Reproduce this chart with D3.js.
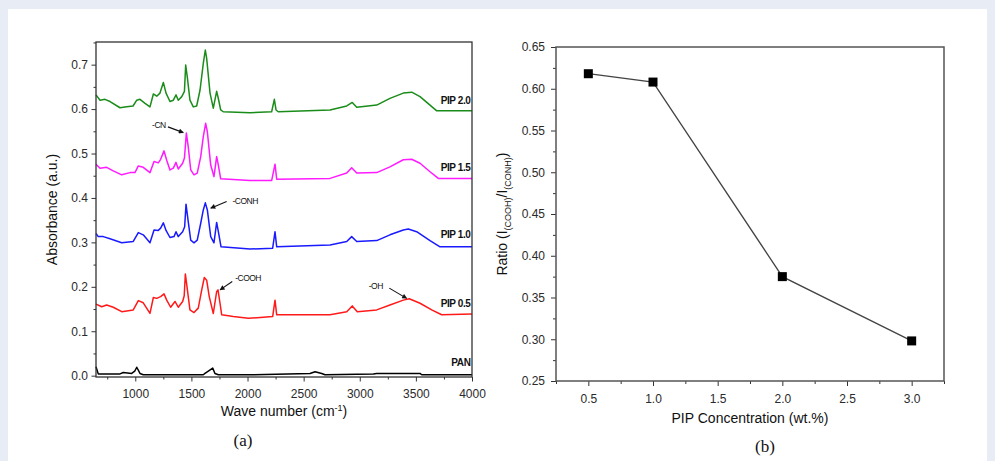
<!DOCTYPE html>
<html>
<head>
<meta charset="utf-8">
<script src="https://cdn.jsdelivr.net/npm/d3@7"></script>
<style>
  html, body { margin: 0; padding: 0; background: #e8ecf5; }
  svg { display: block; }
  text { font-family: Arial, "Liberation Sans", sans-serif; }
</style>
</head>
<body>
<svg id="fig" width="995" height="461"></svg>
<script>
// ---- FTIR spectra: [wavenumber (cm-1), absorbance (a.u.)] ----
const pan = [[650,0.020],[670,0.004],[864,0.004],[893,0.007],[968,0.005],[995,0.010],[1013,0.019],[1042,0.005],[1071,0.002],[1606,0.002],[1621,0.005],[1690,0.017],[1710,0.005],[1740,0.002],[2022,0.002],[2557,0.005],[2602,0.009],[2661,0.005],[2690,0.002],[3121,0.004],[3151,0.005],[3537,0.005],[3552,0.002],[4000,0.002]];

const pip05 = [[650,0.161],[701,0.155],[745,0.159],[804,0.154],[879,0.144],[982,0.148],[1027,0.169],[1071,0.164],[1131,0.140],[1161,0.176],[1191,0.174],[1226,0.178],[1256,0.184],[1280,0.170],[1315,0.154],[1354,0.167],[1383,0.154],[1422,0.167],[1436,0.180],[1446,0.229],[1461,0.200],[1487,0.148],[1523,0.142],[1561,0.152],[1592,0.193],[1615,0.221],[1636,0.215],[1659,0.178],[1695,0.140],[1725,0.189],[1737,0.193],[1755,0.163],[1770,0.137],[1873,0.133],[2007,0.129],[2224,0.133],[2245,0.170],[2260,0.137],[2735,0.137],[2884,0.144],[2933,0.157],[2978,0.144],[3151,0.148],[3269,0.159],[3388,0.170],[3441,0.173],[3537,0.163],[3641,0.148],[3730,0.137],[4000,0.139]];

const pip10 = [[650,0.320],[670,0.313],[715,0.313],[775,0.308],[879,0.299],[982,0.302],[1027,0.322],[1071,0.317],[1131,0.299],[1167,0.328],[1205,0.327],[1226,0.332],[1250,0.344],[1274,0.327],[1309,0.311],[1345,0.313],[1363,0.324],[1383,0.313],[1422,0.324],[1440,0.335],[1452,0.386],[1470,0.350],[1494,0.305],[1523,0.299],[1552,0.305],[1583,0.343],[1606,0.373],[1624,0.389],[1642,0.373],[1672,0.313],[1701,0.299],[1725,0.345],[1743,0.320],[1764,0.290],[2022,0.285],[2224,0.287],[2245,0.324],[2260,0.290],[2735,0.294],[2884,0.302],[2928,0.313],[2973,0.302],[3151,0.304],[3269,0.317],[3388,0.328],[3432,0.330],[3507,0.324],[3626,0.304],[3715,0.290],[4000,0.290]];

const pip15 = [[650,0.476],[686,0.467],[745,0.469],[804,0.461],[879,0.452],[953,0.457],[997,0.457],[1027,0.472],[1071,0.469],[1131,0.457],[1167,0.482],[1205,0.479],[1226,0.487],[1256,0.506],[1280,0.485],[1309,0.463],[1339,0.467],[1363,0.480],[1383,0.465],[1422,0.478],[1438,0.490],[1455,0.546],[1472,0.515],[1494,0.463],[1523,0.452],[1552,0.456],[1583,0.493],[1606,0.538],[1627,0.568],[1642,0.549],[1672,0.474],[1701,0.448],[1725,0.493],[1737,0.478],[1761,0.443],[2022,0.439],[2215,0.439],[2245,0.476],[2260,0.442],[2735,0.444],[2884,0.456],[2928,0.468],[2973,0.456],[3151,0.457],[3269,0.470],[3388,0.486],[3463,0.487],[3537,0.478],[3626,0.459],[3700,0.444],[4000,0.444]];

const pip20 = [[650,0.632],[686,0.620],[730,0.622],[775,0.617],[864,0.603],[923,0.605],[980,0.607],[1013,0.620],[1042,0.622],[1087,0.613],[1131,0.605],[1161,0.634],[1191,0.629],[1220,0.636],[1250,0.660],[1274,0.636],[1309,0.617],[1339,0.620],[1363,0.632],[1383,0.620],[1414,0.628],[1438,0.640],[1449,0.699],[1463,0.673],[1487,0.620],[1517,0.605],[1547,0.607],[1577,0.643],[1606,0.703],[1624,0.733],[1636,0.714],[1666,0.636],[1695,0.602],[1725,0.640],[1739,0.625],[1761,0.598],[1784,0.594],[2022,0.592],[2215,0.594],[2239,0.622],[2254,0.598],[2274,0.594],[2735,0.598],[2884,0.607],[2933,0.615],[2973,0.604],[3151,0.609],[3269,0.624],[3388,0.636],[3463,0.638],[3537,0.628],[3626,0.609],[3686,0.596],[4000,0.596]];

const spectra = [
  { name: "PAN",     data: pan,   color: "#000000" },
  { name: "PIP 0.5", data: pip05, color: "#ff1a1a" },
  { name: "PIP 1.0", data: pip10, color: "#1a1aff" },
  { name: "PIP 1.5", data: pip15, color: "#ff1aff" },
  { name: "PIP 2.0", data: pip20, color: "#1a8c1a" }
];
// absorbance at which each curve's name is printed on the right
const labelLevel = [0.022, 0.155, 0.310, 0.461, 0.612];

// group annotations: text anchor, arrow tail, arrow head (data coordinates)
const groupNotes = [
  { text: "-CN",   at: [1150, 0.557], from: [1291, 0.560], to: [1428, 0.547] },
  { text: "-CONH", at: [1866, 0.386], from: [1814, 0.392], to: [1672, 0.377] },
  { text: "-COOH", at: [1890, 0.214], from: [1864, 0.212], to: [1755, 0.193] },
  { text: "-OH",   at: [3080, 0.195], from: [3263, 0.197], to: [3418, 0.174] }
];

const wnTicks = [1000, 1500, 2000, 2500, 3000, 3500, 4000];
const absTicks = [0.0, 0.1, 0.2, 0.3, 0.4, 0.5, 0.6, 0.7];

// ---- intensity ratio vs. PIP concentration ----
const concentration = [0.5, 1.0, 2.0, 3.0];
const ratio = [0.618, 0.608, 0.375, 0.298];
const concTicks = [0.5, 1.0, 1.5, 2.0, 2.5, 3.0];
const ratioTicks = [0.25, 0.30, 0.35, 0.40, 0.45, 0.50, 0.55, 0.60, 0.65];

const svg = d3.select("#fig");

// white sheet
svg.append("rect").attr("x", 8).attr("y", 9).attr("width", 979).attr("height", 452).attr("fill", "#ffffff");

svg.append("defs").append("marker")
  .attr("id", "head").attr("viewBox", "0 0 10 10").attr("refX", 9).attr("refY", 5)
  .attr("markerWidth", 7).attr("markerHeight", 5).attr("orient", "auto")
  .attr("markerUnits", "userSpaceOnUse")
  .append("path").attr("d", "M0,0 L10,5 L0,10 z").attr("fill", "#111");

function styleAxis(g, size) {
  g.select(".domain").remove();
  g.selectAll(".tick line").attr("stroke", "#333").attr("stroke-width", 1);
  g.selectAll(".tick text").attr("fill", "#2a2a2a").style("font-size", size + "px");
}

// ================= panel (a) =================
const A = { l: 96, r: 472, t: 42, b: 377 };
const xA = d3.scaleLinear().domain([650, 4000]).range([A.l, A.r]);
const yA = d3.scaleLinear().domain([-0.003, 0.751]).range([A.b, A.t]);

const pa = svg.append("g");

// minor ticks
pa.append("g").attr("transform", `translate(0,${A.b})`)
  .call(d3.axisBottom(xA).tickValues(d3.range(750, 4001, 500)).tickSize(2.5).tickFormat(""))
  .call(g => styleAxis(g, 11));
pa.append("g").attr("transform", `translate(${A.l},0)`)
  .call(d3.axisLeft(yA).tickValues(d3.range(0.05, 0.751, 0.1)).tickSize(2.5).tickFormat(""))
  .call(g => styleAxis(g, 11));
// major ticks
pa.append("g").attr("transform", `translate(0,${A.b})`)
  .call(d3.axisBottom(xA).tickValues(wnTicks).tickSize(4.5).tickPadding(8).tickFormat(d3.format("d")))
  .call(g => styleAxis(g, 12));
pa.append("g").attr("transform", `translate(${A.l},0)`)
  .call(d3.axisLeft(yA).tickValues(absTicks).tickSize(4.5).tickPadding(3.5).tickFormat(d3.format(".1f")))
  .call(g => styleAxis(g, 12));

const lineA = d3.line().x(d => xA(d[0])).y(d => yA(d[1]));
pa.selectAll("path.spec").data(spectra).join("path")
  .attr("class", "spec")
  .attr("d", d => lineA(d.data))
  .attr("fill", "none")
  .attr("stroke", d => d.color)
  .attr("stroke-width", 1.5)
  .attr("stroke-linejoin", "round");

pa.selectAll("text.name").data(spectra).join("text")
  .attr("class", "name")
  .attr("x", A.r - 1.5)
  .attr("y", (d, i) => yA(labelLevel[i]))
  .attr("text-anchor", "end")
  .attr("font-weight", "bold")
  .style("font-size", "10px")
  .style("letter-spacing", "-0.4px")
  .attr("fill", "#111")
  .text(d => d.name);

pa.selectAll("line.note").data(groupNotes).join("line")
  .attr("class", "note")
  .attr("x1", d => xA(d.from[0])).attr("y1", d => yA(d.from[1]))
  .attr("x2", d => xA(d.to[0])).attr("y2", d => yA(d.to[1]))
  .attr("stroke", "#111").attr("stroke-width", 1.1)
  .attr("marker-end", "url(#head)");
pa.selectAll("text.note").data(groupNotes).join("text")
  .attr("class", "note")
  .attr("x", d => xA(d.at[0])).attr("y", d => yA(d.at[1]))
  .style("font-size", "8.5px")
  .style("letter-spacing", "-0.5px")
  .attr("fill", "#111")
  .text(d => d.text);

// frame
pa.append("rect").attr("x", A.l).attr("y", A.t).attr("width", A.r - A.l).attr("height", A.b - A.t)
  .attr("fill", "none").attr("stroke", "#333").attr("stroke-width", 1.3);

pa.append("text")
  .attr("transform", `translate(57,${(A.t + A.b) / 2}) rotate(-90)`)
  .attr("text-anchor", "middle").style("font-size", "14px").attr("fill", "#111")
  .text("Absorbance (a.u.)");
const xlabA = pa.append("text")
  .attr("x", (A.l + A.r) / 2).attr("y", 416)
  .attr("text-anchor", "middle").style("font-size", "14px").attr("fill", "#111");
xlabA.append("tspan").text("Wave number (cm");
xlabA.append("tspan").attr("dy", -5).style("font-size", "9px").text("-1");
xlabA.append("tspan").attr("dy", 5).text(")");

svg.append("text").attr("x", 243).attr("y", 446).attr("text-anchor", "middle")
  .style("font-family", "'Liberation Serif', 'DejaVu Serif', serif").style("font-size", "17px")
  .attr("fill", "#111").text("(a)");

// ================= panel (b) =================
const B = { l: 556, r: 944, t: 47, b: 381 };
const xB = d3.scaleLinear().domain([0.25, 3.25]).range([B.l, B.r]);
const yB = d3.scaleLinear().domain([0.25, 0.65]).range([B.b, B.t]);

const pb = svg.append("g");

pb.append("g").attr("transform", `translate(0,${B.b})`)
  .call(d3.axisBottom(xB).tickValues(d3.range(0.25, 3.26, 0.5)).tickSize(3).tickFormat(""))
  .call(g => styleAxis(g, 12));
pb.append("g").attr("transform", `translate(${B.l},0)`)
  .call(d3.axisLeft(yB).tickValues(d3.range(0.275, 0.65, 0.05)).tickSize(3).tickFormat(""))
  .call(g => styleAxis(g, 12));
pb.append("g").attr("transform", `translate(0,${B.b})`)
  .call(d3.axisBottom(xB).tickValues(concTicks).tickSize(5).tickPadding(8).tickFormat(d3.format(".1f")))
  .call(g => styleAxis(g, 12));
pb.append("g").attr("transform", `translate(${B.l},0)`)
  .call(d3.axisLeft(yB).tickValues(ratioTicks).tickSize(5).tickPadding(6).tickFormat(d3.format(".2f")))
  .call(g => styleAxis(g, 12));

const pts = concentration.map((c, i) => [c, ratio[i]]);
pb.append("path")
  .attr("d", d3.line().x(d => xB(d[0])).y(d => yB(d[1]))(pts))
  .attr("fill", "none").attr("stroke", "#444").attr("stroke-width", 1.3);
pb.selectAll("rect.pt").data(pts).join("rect")
  .attr("class", "pt")
  .attr("x", d => xB(d[0]) - 4.5).attr("y", d => yB(d[1]) - 4.5)
  .attr("width", 9).attr("height", 9).attr("fill", "#000");

pb.append("rect").attr("x", B.l).attr("y", B.t).attr("width", B.r - B.l).attr("height", B.b - B.t)
  .attr("fill", "none").attr("stroke", "#555").attr("stroke-width", 1.5);

const ylabB = pb.append("text")
  .attr("transform", `translate(507,${(B.t + B.b) / 2}) rotate(-90)`)
  .attr("text-anchor", "middle").style("font-size", "14px").attr("fill", "#111");
ylabB.append("tspan").text("Ratio (I");
ylabB.append("tspan").attr("dy", 4).style("font-size", "9px").text("(COOH)");
ylabB.append("tspan").attr("dy", -4).text("/I");
ylabB.append("tspan").attr("dy", 4).style("font-size", "9px").text("(CONH)");
ylabB.append("tspan").attr("dy", -4).text(")");

pb.append("text").attr("x", (B.l + B.r) / 2).attr("y", 423)
  .attr("text-anchor", "middle").style("font-size", "14px").attr("fill", "#111")
  .text("PIP Concentration (wt.%)");

svg.append("text").attr("x", 765).attr("y", 452).attr("text-anchor", "middle")
  .style("font-family", "'Liberation Serif', 'DejaVu Serif', serif").style("font-size", "17px")
  .attr("fill", "#111").text("(b)");
</script>
</body>
</html>
